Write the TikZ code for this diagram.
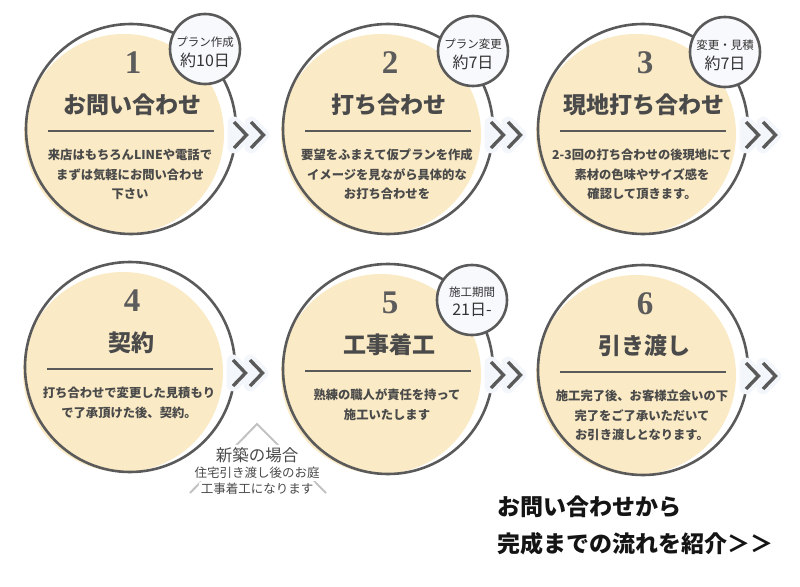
\documentclass[tikz,border=0pt]{standalone}
\usepackage{fontspec}
\setmainfont{Liberation Serif}
\newfontfamily\jp{Noto Sans CJK JP}
\definecolor{cream}{HTML}{FAEAC5}
\definecolor{ringgray}{HTML}{5A5A5A}
\definecolor{txtgray}{HTML}{4A4A4A}
\definecolor{halo}{HTML}{F3F6FA}
\definecolor{badgefill}{HTML}{F8F9FD}
\definecolor{trigray}{HTML}{C2C2C2}
\begin{document}
\begin{tikzpicture}[x=1pt,y=-1pt,
  fillcirc/.style={circle, fill=cream, draw=none, minimum size=200, inner sep=0},
  ringcirc/.style={circle, draw=ringgray, line width=2.6, minimum size=210, inner sep=0},
  badgecirc/.style={circle, draw=ringgray, line width=2.6, fill=badgefill, minimum size=70, inner sep=0},
  chevhalo/.style={draw=halo, fill=halo, line width=13, line join=round, line cap=round},
  chevline/.style={draw=ringgray, line width=3.4, line join=miter},
  rule/.style={draw=ringgray, line width=2.4},
  numtxt/.style={font=\bfseries\fontsize{33}{33}\selectfont, text=txtgray!90, inner sep=0},
  titletxt/.style={font=\jp\bfseries\fontsize{23}{24}\selectfont, text=txtgray, inner sep=0},
  bodytxt/.style={font=\jp\bfseries\fontsize{12.3}{19.5}\selectfont, text=txtgray, align=center, anchor=north, inner sep=0},
  badgesmall/.style={font=\jp\fontsize{11.5}{12}\selectfont, text=black!80, inner sep=0},
  badgebig/.style={font=\jp\fontsize{16}{16}\selectfont, text=black!80, inner sep=0},
  tri/.style={draw=trigray, line width=2},
  annbig/.style={font=\jp\fontsize{16.5}{17}\selectfont, text=txtgray, fill=white, inner sep=2.5, rounded corners=3},
  annsmall/.style={font=\jp\fontsize{12.5}{13}\selectfont, text=txtgray, fill=white, inner sep=2, rounded corners=3},
  closing/.style={font=\jp\bfseries\fontsize{23}{23}\selectfont, text=black!92, anchor=west, inner sep=0}
]
\useasboundingbox (0,0) rectangle (800,586);

\foreach \i/\cx/\cy/\ttl/\body in {
  1/131/129/{お問い合わせ}/{来店はもちろんLINEや電話で\\まずは気軽にお問い合わせ\\下さい},
  2/388/129/{打ち合わせ}/{要望をふまえて仮プランを作成\\イメージを見ながら具体的な\\お打ち合わせを},
  3/643/129/{現地打ち合わせ}/{2-3回の打ち合わせの後現地にて\\素材の色味やサイズ感を\\確認して頂きます。},
  4/130/367/{契約}/{打ち合わせで変更した見積もり\\で了承頂けた後、契約。},
  5/388/369/{工事着工}/{熟練の職人が責任を持って\\施工いたします},
  6/643/370/{引き渡し}/{施工完了後、お客様立会いの下\\完了をご了承いただいて\\お引き渡しとなります。}}
{
  \node[fillcirc] (fill\i) at (\cx-7,\cy+5) {};
  \node[ringcirc] (ring\i) at (\cx,\cy) {};
  \draw[chevhalo] (\cx+103,\cy-6) -- (\cx+115,\cy+6) -- (\cx+103,\cy+18) -- cycle;
  \draw[chevhalo] (\cx+120,\cy-6) -- (\cx+132,\cy+6) -- (\cx+120,\cy+18) -- cycle;
  \draw[chevline] (\cx+103,\cy-7) -- (\cx+115.5,\cy+6) -- (\cx+103,\cy+19);
  \draw[chevline] (\cx+120,\cy-7) -- (\cx+132.5,\cy+6) -- (\cx+120,\cy+19);
  \node[numtxt] (num\i) at (\cx+2,\cy-66) {\i};
  \node[titletxt] (title\i) at (\cx+1,\cy-24) {\ttl};
  \draw[rule] (\cx-83,\cy+2) -- (\cx+83,\cy+2);
  \node[bodytxt] (body\i) at (\cx-1,\cy+20) {\body};
}

\node[badgecirc] (badge1) at (205,49) {};
\node[badgesmall] (bs1) at (205,42) {プラン作成};
\node[badgebig] (bb1) at (205,60) {約10日};
\node[badgecirc] (badge2) at (473,51) {};
\node[badgesmall] (bs2) at (473,44) {プラン変更};
\node[badgebig] (bb2) at (473,62) {約7日};
\node[badgecirc] (badge3) at (725,52) {};
\node[badgesmall] (bs3) at (725,45) {変更・見積};
\node[badgebig] (bb3) at (725,63) {約7日};
\node[badgecirc] (badge5) at (472,300) {};
\node[badgesmall] (bs5) at (472,292) {施工期間};
\node[badgebig] (bb5) at (472,310) {21日-};

\coordinate (tl) at (190,493);
\coordinate (tp) at (257,424);
\coordinate (tr) at (326,493);
\draw[tri] (tl) -- (tp) -- (tr);
\node[annbig] (ann1) at (257,455) {新築の場合};
\node[annsmall] (ann2) at (257,473) {住宅引き渡し後のお庭};
\node[annsmall] (ann3) at (257,489) {工事着工になります};

\node[closing] (close1) at (497,507) {お問い合わせから};
\node[closing] (close2) at (497,544) {完成までの流れを紹介＞＞};
\end{tikzpicture}
\end{document}
